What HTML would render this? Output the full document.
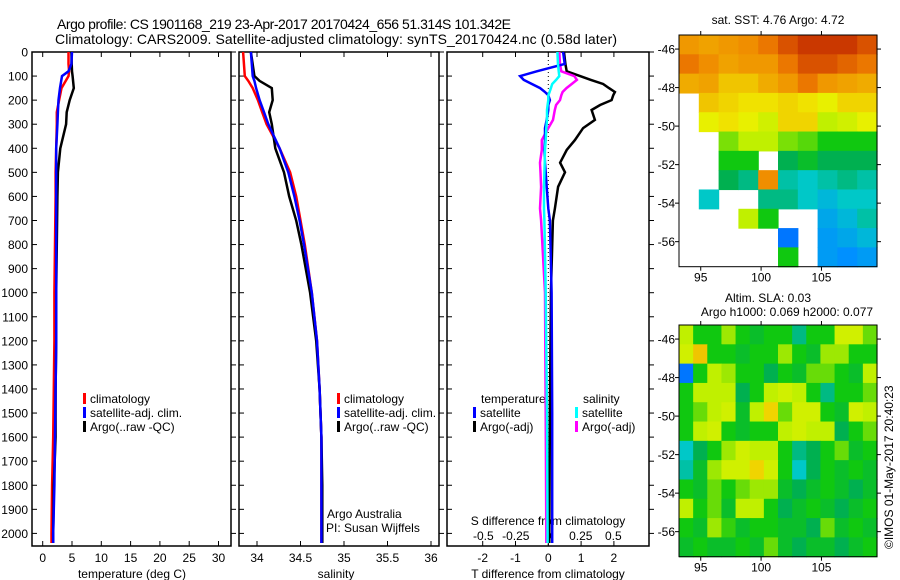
<!DOCTYPE html>
<html><head><meta charset="utf-8"><style>
html,body{margin:0;padding:0;background:#fff;}
svg{display:block;font-family:"Liberation Sans",sans-serif;}
</style></head><body>
<svg id="fig" width="900" height="580" viewBox="0 0 900 580" xmlns="http://www.w3.org/2000/svg">
<text x="57" y="29" font-size="14" textLength="454">Argo profile: CS 1901168_219 23-Apr-2017 20170424_656 51.314S 101.342E</text>
<text x="55" y="44" font-size="14" textLength="562">Climatology: CARS2009. Satellite-adjusted climatology: synTS_20170424.nc (0.58d later)</text>
<g id="layer"></g>
</svg>
<script>
// ---------- data ----------
const tDepth=[0,50,80,100,150,200,250,300,400,500,600,800,1000,1200,1400,1600,1800,2000,2040];
const tArgo=[4.9,4.95,5.0,5.1,5.3,4.6,4.1,4.0,3.0,2.6,2.5,2.4,2.3,2.3,2.2,2.2,1.9,1.8,1.8];
const tClim=[4.4,4.4,4.5,4.4,3.2,2.8,2.4,2.4,2.3,2.2,2.2,2.1,2.0,2.0,1.9,1.8,1.6,1.5,1.5];
const tSat=[5.0,4.9,4.4,3.3,2.95,2.7,2.6,2.5,2.3,2.3,2.3,2.3,2.3,2.3,2.2,2.1,2.0,1.8,1.8];
const sDepth=[0,100,120,150,200,250,300,400,500,600,700,800,1000,1200,1400,1600,1800,2000,2040];
const sArgo=[33.93,33.97,34.03,34.17,34.18,34.14,34.17,34.21,34.31,34.37,34.45,34.51,34.61,34.68,34.72,34.74,34.75,34.75,34.75];
const sClim=[33.84,33.86,33.90,33.95,34.01,34.06,34.11,34.26,34.38,34.45,34.50,34.55,34.63,34.69,34.72,34.74,34.74,34.74,34.74];
const sSat=[33.93,33.95,33.97,33.99,34.03,34.08,34.13,34.26,34.36,34.43,34.49,34.54,34.63,34.69,34.72,34.74,34.74,34.74,34.74];
const dDepth=[0,50,80,100,116,133,150,166,180,200,220,241,282,316,366,407,460,500,560,650,700,1000,1500,2000,2040];
const dTSat=[0.45,0.5,-0.35,-0.86,-0.75,-0.5,-0.25,-0.1,0.0,0.05,0.0,0.0,-0.05,-0.1,-0.1,-0.12,-0.1,-0.08,-0.05,0.0,0.05,0.1,0.12,0.12,0.12];
const dTArgo=[0.48,0.52,0.56,0.97,1.3,1.67,1.85,2.03,1.98,1.93,1.58,1.32,1.42,1.06,0.81,0.56,0.36,0.51,0.3,0.2,0.14,0.08,0.05,0.03,0.03];
const dSSat=[0.07,0.075,0.08,0.085,0.06,0.03,0.02,0.01,0.0,0.0,-0.005,-0.01,-0.01,-0.015,-0.02,-0.025,-0.028,-0.03,-0.033,-0.033,-0.03,-0.02,-0.01,-0.005,-0.005];
const dSArgo=[0.085,0.09,0.1,0.2,0.22,0.18,0.14,0.11,0.1,0.09,0.06,0.05,0.036,0.0,-0.05,-0.05,-0.064,-0.06,-0.055,-0.064,-0.055,-0.025,-0.02,-0.015,-0.015];
const depthTicks=[0,100,200,300,400,500,600,700,800,900,1000,1100,1200,1300,1400,1500,1600,1700,1800,1900,2000];
const tTicks=[0,5,10,15,20,25,30];
const sTicks=[34,34.5,35,35.5,36];
const sTickLabels=["34","34.5","35","35.5","36"];
const dTTicks=[-2,-1,0,1,2];
const dSTicks=[-0.5,-0.25,0,0.25,0.5];
const dSTickLabels=["-0.5","-0.25","0","0.25","0.5"];
const latTicks=[-46,-48,-50,-52,-54,-56];
const lonTicks=[95,100,105];
// SST map grid (10 lon cols x 12 lat rows), normalized colour value, null = no data
const sstGrid=[
[0.80,0.78,0.80,0.82,0.86,0.90,0.93,0.93,0.93,0.90],
[0.86,0.82,0.78,0.80,0.80,0.86,0.90,0.90,0.88,0.86],
[0.76,0.78,0.72,0.72,0.76,0.80,0.86,0.80,0.78,0.76],
[null,0.72,0.70,0.68,0.68,0.70,0.68,0.65,0.70,0.70],
[null,0.65,0.68,0.65,0.62,0.70,0.70,0.60,0.62,0.65],
[null,null,0.56,0.60,0.60,0.56,0.54,0.50,0.50,0.50],
[null,null,0.50,0.50,null,0.45,0.48,0.45,0.45,0.45],
[null,null,0.45,0.42,0.82,0.40,0.38,0.40,0.42,0.40],
[null,0.38,null,null,0.42,0.42,0.38,0.35,0.38,0.38],
[null,null,null,0.60,0.50,null,null,0.32,0.35,0.40],
[null,null,null,null,null,0.25,null,0.30,0.32,0.35],
[null,null,null,null,null,0.50,null,0.30,0.28,0.30]];
// SLA map grid (14 lon cols x 12 lat rows)
const slaGrid=[
[0.60,0.50,0.50,0.58,0.50,0.48,0.50,0.50,0.42,0.50,0.50,0.62,0.62,0.55],
[0.62,0.72,0.50,0.50,0.48,0.50,0.50,0.58,0.50,0.48,0.58,0.58,0.50,0.50],
[0.25,0.50,0.60,0.58,0.50,0.50,0.45,0.50,0.48,0.55,0.55,0.50,0.48,0.60],
[0.50,0.60,0.60,0.60,0.45,0.50,0.60,0.62,0.60,0.50,0.42,0.50,0.50,0.55],
[0.50,0.55,0.60,0.62,0.48,0.60,0.70,0.55,0.62,0.62,0.50,0.48,0.62,0.60],
[0.50,0.60,0.62,0.50,0.48,0.50,0.50,0.60,0.62,0.60,0.60,0.45,0.50,0.55],
[0.38,0.45,0.50,0.58,0.62,0.60,0.60,0.50,0.42,0.45,0.50,0.55,0.48,0.50],
[0.40,0.48,0.58,0.62,0.62,0.70,0.62,0.50,0.38,0.45,0.50,0.48,0.50,0.48],
[0.50,0.48,0.55,0.50,0.55,0.58,0.58,0.48,0.45,0.48,0.50,0.48,0.45,0.48],
[0.60,0.50,0.55,0.48,0.60,0.60,0.50,0.45,0.48,0.50,0.48,0.45,0.48,0.50],
[0.50,0.48,0.58,0.52,0.48,0.50,0.50,0.48,0.48,0.45,0.55,0.48,0.50,0.48],
[0.48,0.50,0.48,0.48,0.50,0.48,0.55,0.48,0.45,0.48,0.48,0.45,0.48,0.50]];

// ---------- helpers ----------
const NS="http://www.w3.org/2000/svg";
const L=document.getElementById('layer');
function mk(tag,attrs,parent){const e=document.createElementNS(NS,tag);for(const k in attrs)e.setAttribute(k,attrs[k]);(parent||L).appendChild(e);return e;}
function txt(x,y,s,anchor,size,parent){const e=mk('text',{x:x,y:y,'font-size':size||12,'text-anchor':anchor||'start'},parent);e.textContent=s;return e;}
const Y0=52,Y1=546;
const yD=d=>Y0+d*0.2407;
const xT=v=>42.7+5.86*v;
const xS=v=>257+87*(v-34);
const xDT=v=>548.3+32.8*v;
const xDS=v=>548.3+130*v;

function panel(x0,x1,name,labels){
  const g=mk('g',{});
  
  
  const r=mk('rect',{x:x0,y:Y0,width:x1-x0,height:Y1-Y0,fill:'none',stroke:'#000','stroke-width':1.5},g);
  
  
  depthTicks.forEach(d=>{
    const y=yD(d);
    mk('line',{x1:x0,y1:y,x2:x0+5,y2:y,stroke:'#000'},g);
    mk('line',{x1:x1,y1:y,x2:x1+5,y2:y,stroke:'#000'},g);
    if(labels){const t=txt(28,y+4.5,String(d),'end',12,g);
      
      }
  });
  return g;
}
function line(xs,ds,xf,color,name,w){
  const pts=xs.map((v,i)=>xf(v).toFixed(1)+','+yD(ds[i]).toFixed(1)).join(' ');
  const p=mk('polyline',{points:pts,fill:'none',stroke:color,'stroke-width':w||2.5,'stroke-linejoin':'miter'});
  
  
}
function xticks(ticks,labs,xf,ylab,g){
  ticks.forEach((v,i)=>{
    const x=xf(v);
    mk('line',{x1:x,y1:Y1,x2:x,y2:Y1-5,stroke:'#000'},g);
    mk('line',{x1:x,y1:Y0,x2:x,y2:Y0+5,stroke:'#000'},g);
    const t=txt(x,ylab,labs[i],'middle',12,g);
    
    
  });
}
function legend(x,y,items,g){
  items.forEach((it,i)=>{
    mk('rect',{x:x,y:y+i*14-10,width:3,height:11,fill:it[0]},g);
    const t=txt(x+7,y+i*14,it[1],'start',12,g);
    
    
  });
}

// ---------- panel 1: temperature ----------
const g1=panel(32,231,'temperature-panel',true);
xticks(tTicks,tTicks.map(String),xT,562,g1);
const xl1=txt(132,578,'temperature (deg C)','middle',12,g1);


line(tClim,tDepth,xT,'#f00','temp-climatology-line');
line(tArgo,tDepth,xT,'#000','temp-argo-line');
line(tSat,tDepth,xT,'#00f','temp-satellite-line');
legend(83,403,[['#f00','climatology'],['#00f','satellite-adj. clim.'],['#000','Argo(..raw -QC)']],g1);

// ---------- panel 2: salinity ----------
const g2=panel(239,439,'salinity-panel',false);
xticks(sTicks,sTickLabels,xS,562,g2);
const xl2=txt(336,578,'salinity','middle',12,g2);


line(sClim,sDepth,xS,'#f00','sal-climatology-line');
line(sArgo,sDepth,xS,'#000','sal-argo-line');
line(sSat,sDepth,xS,'#00f','sal-satellite-line');
legend(337,403,[['#f00','climatology'],['#00f','satellite-adj. clim.'],['#000','Argo(..raw -QC)']],g2);
const a1=txt(327,518,'Argo Australia','start',12,g2);


const a2=txt(326,532,'PI: Susan Wijffels','start',12,g2);



// ---------- panel 3: differences ----------
const g3=panel(447,649,'difference-panel',false);
xticks(dTTicks,dTTicks.map(String),xDT,562,g3);
const xl3=txt(548,578,'T difference from climatology','middle',12,g3);


dSTicks.forEach((v,i)=>{
  const t=txt(xDS(v),540,dSTickLabels[i],'middle',12,g3);
  
  
});
const st=txt(548,525,'S difference from climatology','middle',12,g3);


const z=mk('line',{x1:xDT(0),y1:Y0,x2:xDT(0),y2:Y1,stroke:'#000','stroke-dasharray':'1,3'},g3);


line(dTArgo,dDepth,xDT,'#000','t-diff-argo-line');
line(dSArgo,dDepth,xDS,'#f0f','s-diff-argo-line');
line(dTSat,dDepth,xDT,'#00f','t-diff-satellite-line');
line(dSSat,dDepth,xDS,'#0ff','s-diff-satellite-line');
const lt=txt(481,403,'temperature','start',12,g3);


const ls=txt(583,403,'salinity','start',12,g3);


legend(473,417,[['#00f','satellite'],['#000','Argo(-adj)']],g3);
legend(575,417,[['#0ff','satellite'],['#f0f','Argo(-adj)']],g3);

// ---------- maps ----------
const stops=[[0,[0,0,144]],[0.15,[0,32,255]],[0.28,[0,144,255]],[0.38,[0,200,200]],[0.45,[0,176,80]],[0.5,[16,200,16]],[0.6,[192,240,0]],[0.66,[240,240,0]],[0.75,[240,176,0]],[0.85,[240,128,0]],[0.92,[208,64,0]],[1,[160,0,0]]];
function cmap(v){
  for(let i=1;i<stops.length;i++){
    if(v<=stops[i][0]){const a=stops[i-1],b=stops[i],f=(v-a[0])/(b[0]-a[0]);
      return 'rgb('+a[1].map((c,k)=>Math.round(c+(b[1][k]-c)*f)).join(',')+')';}
  }
  return 'rgb(160,0,0)';
}
const MX0=679,MX1=877,LON0=93.2,LON1=109.6,LAT0=-45.27,LAT1=-57.3;
const xLon=v=>MX0+(v-LON0)/(LON1-LON0)*(MX1-MX0);
function mapPanel(top,bot,grid,name,bottomLabels){
  const g=mk('g',{});
  
  
  const yLat=v=>top+(v-LAT0)/(LAT1-LAT0)*(bot-top);
  const rows=grid.length,cols=grid[0].length;
  const cw=(MX1-MX0)/cols,ch=(bot-top)/rows;
  grid.forEach((row,r)=>row.forEach((v,c)=>{
    if(v===null)return;
    const cell=mk('rect',{x:(MX0+c*cw).toFixed(2),y:(top+r*ch).toFixed(2),width:(cw+0.6).toFixed(2),height:(ch+0.6).toFixed(2),fill:cmap(v)},g);
    
    
  }));
  mk('rect',{x:MX0,y:top,width:MX1-MX0,height:bot-top,fill:'none',stroke:'#000','stroke-width':1},g);
  latTicks.forEach(v=>{
    const y=yLat(v);
    mk('line',{x1:MX0-4,y1:y,x2:MX0,y2:y,stroke:'#000'},g);
    mk('line',{x1:MX1,y1:y,x2:MX1+4,y2:y,stroke:'#000'},g);
    const t=txt(MX0-4,y+4.5,String(v),'end',12,g);
    
    
  });
  lonTicks.forEach(v=>{
    const x=xLon(v);
    mk('line',{x1:x,y1:top-4,x2:x,y2:top,stroke:'#000'},g);
    mk('line',{x1:x,y1:bot,x2:x,y2:bot+4,stroke:'#000'},g);
    if(bottomLabels){const t=txt(x,bot+15,String(v),'middle',12,g);
      
      }
  });
}
mapPanel(35,266.7,sstGrid,'sst-map',true);
mapPanel(325,556.7,slaGrid,'sla-map',true);
const m1=txt(778,24,'sat. SST: 4.76 Argo: 4.72','middle',12);


const m2=txt(768,302,'Altim. SLA: 0.03','middle',12);


const m3=txt(787,316,'Argo h1000: 0.069 h2000: 0.077','middle',12);


const cp=txt(0,0,'\u00A9IMOS 01-May-2017 20:40:23','start',12);
cp.setAttribute('transform','translate(893,549) rotate(-90)');


</script>
</body></html>
